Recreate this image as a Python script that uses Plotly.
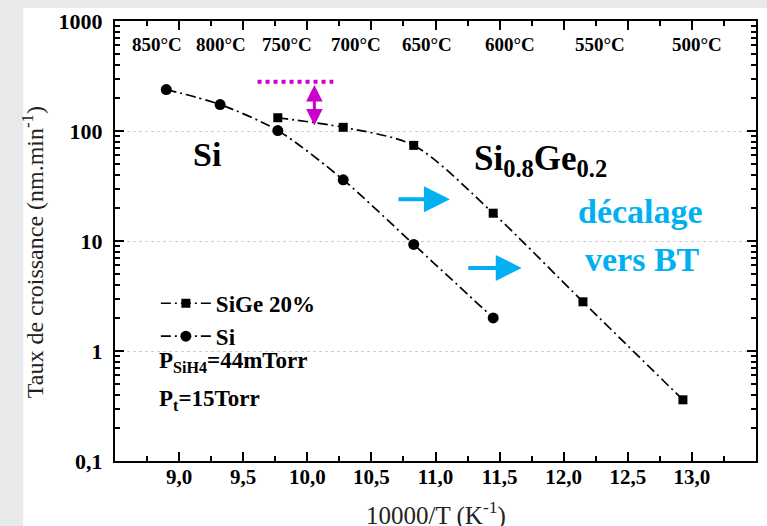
import plotly.graph_objects as go

# ---- data ----
si_x = [8.90, 9.32, 9.77, 10.28, 10.83, 11.45]
si_y = [238, 174, 101, 36, 9.3, 2.0]
sige_x = [9.77, 10.28, 10.83, 11.45, 12.15, 12.93]
sige_y = [132, 108, 74, 17.9, 2.8, 0.36]
temp_labels = ["850°C", "800°C", "750°C", "700°C", "650°C", "600°C", "550°C", "500°C"]
temp_label_x = [8.83, 9.33, 9.84, 10.38, 10.93, 11.58, 12.28, 13.04]
x_tickvals = [9.0, 9.5, 10.0, 10.5, 11.0, 11.5, 12.0, 12.5, 13.0]
x_minor_vals = [8.75, 9.25, 9.75, 10.25, 10.75, 11.25, 11.75, 12.25, 12.75, 13.25]
y_tickvals = [0.1, 1, 10, 100, 1000]
y_ticktext = ["0,1", "1", "10", "100", "1000"]

# ---- layout helpers (pixel -> paper) ----
W, H = 767, 526
L, R, T, B = 115, 758, 19, 461


def px(x):
    return (x - L) / (R - L)


def py(y):
    return (B - y) / (B - T)


SERIF = "Liberation Serif"
CYAN = "#00b0f0"
MAG = "#cc00cc"

fig = go.Figure()
line_style = dict(color="black", width=1.7, dash="10px,4px,2px,4px", shape="spline", smoothing=0.8)
fig.add_trace(go.Scatter(x=sige_x, y=sige_y, mode="lines+markers", name="SiGe 20%",
                         line=line_style, marker=dict(symbol="square", size=9, color="black")))
fig.add_trace(go.Scatter(x=si_x, y=si_y, mode="lines+markers", name="Si",
                         line=line_style, marker=dict(symbol="circle", size=11, color="black")))

minor_y = [m * 10 ** d for d in range(-1, 3) for m in range(2, 10)]

fig.update_xaxes(range=[8.5, 13.5], tickmode="array", tickvals=x_tickvals, tickformat=".1f",
                 ticks="inside", ticklen=9, tickwidth=1.5, tickcolor="black",
                 showline=True, linewidth=2, linecolor="black", mirror="allticks",
                 showgrid=False, zeroline=False, ticklabelstandoff=-4,
                 minor=dict(tickvals=x_minor_vals, ticks="inside", ticklen=5, tickcolor="black", tickwidth=1.5),
                 tickfont=dict(family=SERIF, size=21, color="black", weight="bold"))
fig.update_yaxes(type="log", range=[-1, 3], tickmode="array", tickvals=y_tickvals, ticktext=y_ticktext,
                 ticks="inside", ticklen=9, tickwidth=1.5, tickcolor="black",
                 showline=True, linewidth=2, linecolor="black", mirror="allticks",
                 showgrid=True, gridcolor="#cfcfcf", griddash="dot", gridwidth=1, zeroline=False,
                 minor=dict(tickvals=minor_y, ticks="inside", ticklen=5, tickcolor="black", tickwidth=1.5, showgrid=False),
                 ticklabelstandoff=6,
                 tickfont=dict(family=SERIF, size=22, color="black", weight="bold"))

ann = []
for lab, xv in zip(temp_labels, temp_label_x):
    ann.append(dict(x=xv, y=py(43), xref="x", yref="paper", text=lab, showarrow=False,
                    xanchor="center", yanchor="middle",
                    font=dict(family=SERIF, size=19, color="black", weight="bold")))


def text(xp, yp, t, size, color="black", bold=True, **kw):
    d = dict(x=px(xp), y=py(yp), xref="paper", yref="paper", text=t, showarrow=False,
             xanchor="center", yanchor="middle",
             font=dict(family=SERIF, size=size, color=color, weight="bold" if bold else "normal"))
    d.update(kw)
    ann.append(d)


text(207, 153, "Si", 34)
text(542, 159, "Si<sub>0.8</sub>Ge<sub>0.2</sub>", 35)
text(642, 210, "décalage", 34, CYAN)
text(644, 259, "vers BT", 34, CYAN)
text(157, 362, "P<sub>SiH4</sub>=44mTorr", 23, xanchor="left")
text(157, 400, "P<sub>t</sub>=15Torr", 23, xanchor="left")
text(33, 251, "Taux de croissance (nm.min<sup>-1</sup>)", 24, "#222", bold=False, textangle=-90)
text(437, 514, "10000/T (K<sup>-1</sup>)", 25, "#222", bold=False)


def arrow(xp, yp, ax, ay, color, width, size, side="end"):
    ann.append(dict(x=px(xp), y=py(yp), xref="paper", yref="paper", text="", showarrow=True,
                    ax=ax, ay=ay, axref="pixel", ayref="pixel", arrowcolor=color, arrowwidth=width,
                    arrowhead=2, arrowsize=size, arrowside=side, startarrowhead=2, startarrowsize=size))


arrow(451, 198, -53, 0, CYAN, 4, 1.3)
arrow(523, 267, -55, 0, CYAN, 4, 1.3)
arrow(315, 124, 0, -42, MAG, 3, 1.1, side="end+start")

shapes = [
    dict(type="rect", xref="paper", yref="paper", x0=px(23), x1=px(900), y0=py(700), y1=py(6),
         fillcolor="white", line=dict(width=0), layer="below"),
    dict(type="line", xref="paper", yref="paper", x0=px(258), x1=px(334), y0=py(80), y1=py(80),
         line=dict(color=MAG, width=4, dash="dot")),
]

fig.update_layout(
    width=W, height=H, margin=dict(l=L, r=W - R, t=T, b=H - B),
    paper_bgcolor="#e8e9eb", plot_bgcolor="white", separators=", ",
    showlegend=True,
    legend=dict(x=px(156), y=py(281), xanchor="left", yanchor="top", bgcolor="rgba(0,0,0,0)",
                font=dict(family=SERIF, size=23, color="black", weight="bold"), tracegroupgap=0,
                itemwidth=50),
    annotations=ann, shapes=shapes,
)

fig.write_html("out.html", config={"displayModeBar": False},
               post_script="document.body.style.margin='0px';")
